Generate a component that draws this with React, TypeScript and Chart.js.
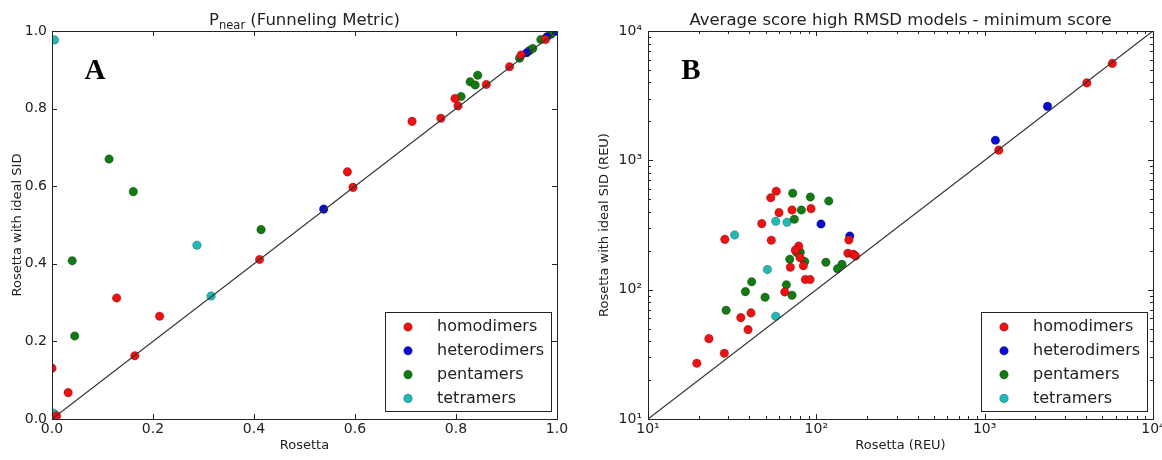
import React, { useEffect, useRef } from "react";
import { Chart, registerables } from "chart.js";

Chart.register(...registerables);

type Pt = [number, number];

// ---------- Panel A : Pnear ----------
const homodimersA: Pt[] = [
  [0.0, 0.131], [0.032, 0.068], [0.009, 0.008], [0.128, 0.312], [0.164, 0.163],
  [0.213, 0.265], [0.411, 0.411], [0.585, 0.637], [0.596, 0.597], [0.713, 0.767],
  [0.770, 0.775], [0.798, 0.826], [0.804, 0.807], [0.860, 0.862], [0.906, 0.908],
  [0.929, 0.938], [0.977, 0.978],
];
const heterodimersA: Pt[] = [[0.538, 0.541], [0.940, 0.944], [0.980, 0.985], [0.998, 1.0]];
const pentamersA: Pt[] = [
  [0.113, 0.670], [0.161, 0.586], [0.040, 0.408], [0.045, 0.214], [0.414, 0.488],
  [0.810, 0.831], [0.828, 0.869], [0.838, 0.861], [0.843, 0.886], [0.926, 0.930],
  [0.946, 0.950], [0.952, 0.955], [0.968, 0.978], [0.988, 0.992], [0.992, 0.996],
];
const tetramersA: Pt[] = [[0.005, 0.977], [0.003, 0.015], [0.287, 0.448], [0.315, 0.317]];
const diagonalA: Pt[] = [[0, 0], [1, 1]];
const ticksA = [0, 0.2, 0.4, 0.6, 0.8, 1.0];

// ---------- Panel B : scores (REU) ----------
const homodimersB: Pt[] = [
  [57.8, 576], [53.6, 514], [60.0, 394], [71.7, 413], [93.0, 423], [47.4, 324],
  [28.6, 245], [54.0, 241], [156, 242], [78.6, 217], [75.0, 202], [80.0, 177],
  [83.7, 153], [70.1, 149], [154, 191], [166, 188], [171, 182], [86.0, 120],
  [91.8, 120], [64.9, 96], [40.9, 66.1], [35.6, 60.8], [39.3, 49.1], [23.0, 41.8],
  [28.4, 32.2], [19.5, 27.0], [1213, 1199], [4045, 3970], [5730, 5615],
];
const heterodimersB: Pt[] = [[106.6, 322], [158, 260], [1158, 1430], [2362, 2612]];
const pentamersB: Pt[] = [
  [72.4, 557], [92.1, 521], [118.5, 485], [81.5, 413], [74.0, 350], [80.3, 195],
  [76.5, 194], [85.3, 165], [69.5, 172], [114, 163], [142, 157], [133.5, 145],
  [41.3, 115], [37.9, 96.6], [66.4, 109], [71.7, 90.6], [49.6, 87.3], [29.1, 69.3],
];
const tetramersB: Pt[] = [[57.4, 338], [67.0, 332], [32.7, 265], [51.2, 143], [57.4, 62.3]];
const diagonalB: Pt[] = [[10, 10], [10000, 10000]];
const ticksB = [10, 100, 1000, 10000];

const seriesNames = ["homodimers", "heterodimers", "pentamers", "tetramers"];
const seriesColors = ["#ee1111", "#0a0ad0", "#117a11", "#22b8b8"];

const FONT = "'DejaVu Sans', sans-serif";
const INK = "#222";

const SUP: Record<string, string> = { "0": "⁰", "1": "¹", "2": "²", "3": "³", "4": "⁴", "-": "⁻" };
const logLabel = (v: number) => "10" + String(Math.round(Math.log10(v))).split("").map((c) => SUP[c]).join("");

const framePlugin = {
  id: "frame",
  afterDatasetsDraw(chart: any, _args: any, opts: any) {
    const { ctx, chartArea: a, scales } = chart;
    const xs = scales.x, ys = scales.y;
    ctx.save();
    ctx.strokeStyle = INK;
    ctx.lineWidth = 1;
    const tick = (vals: number[], len: number) => {
      ctx.beginPath();
      for (const v of vals) {
        const px = Math.round(xs.getPixelForValue(v)) + 0.5;
        ctx.moveTo(px, a.bottom); ctx.lineTo(px, a.bottom - len);
        ctx.moveTo(px, a.top); ctx.lineTo(px, a.top + len);
        const py = Math.round(ys.getPixelForValue(v)) + 0.5;
        ctx.moveTo(a.left, py); ctx.lineTo(a.left + len, py);
        ctx.moveTo(a.right, py); ctx.lineTo(a.right - len, py);
      }
      ctx.stroke();
    };
    tick(opts.majors || [], 5);
    tick(opts.minors || [], 3);
    ctx.strokeRect(Math.round(a.left) + 0.5, Math.round(a.top) + 0.5,
      Math.round(a.right - a.left), Math.round(a.bottom - a.top));
    ctx.restore();
  },
  afterDraw(chart: any, _args: any, opts: any) {
    const { ctx, chartArea: a } = chart;
    ctx.save();
    // title with optional subscript parts
    const parts: { text: string; size: number; dy: number }[] = opts.title || [];
    let total = 0;
    for (const p of parts) { ctx.font = `${p.size}px ${FONT}`; total += ctx.measureText(p.text).width; }
    let x = (a.left + a.right) / 2 - total / 2;
    ctx.fillStyle = INK;
    ctx.textBaseline = "alphabetic";
    ctx.textAlign = "left";
    for (const p of parts) {
      ctx.font = `${p.size}px ${FONT}`;
      ctx.fillText(p.text, x, 24.5 + p.dy);
      x += ctx.measureText(p.text).width;
    }
    // panel letter
    ctx.font = `bold 29px 'Liberation Serif', serif`;
    ctx.fillStyle = "#000";
    ctx.textAlign = "center";
    ctx.fillText(opts.letter, a.left + 43, a.top + 48);
    // legend
    const w = 166, h = 99;
    const lx = a.right - 6 - w, ly = a.bottom - 8 - h;
    ctx.fillStyle = "#fff";
    ctx.fillRect(lx, ly, w, h);
    ctx.strokeStyle = INK;
    ctx.lineWidth = 1;
    ctx.strokeRect(Math.round(lx) + 0.5, Math.round(ly) + 0.5, w, h);
    const items = chart.data.datasets.filter((d: any) => d.label);
    items.forEach((d: any, i: number) => {
      const cy = ly + 15 + i * 23.8;
      ctx.beginPath();
      ctx.arc(lx + 23, cy, 4.3, 0, Math.PI * 2);
      ctx.fillStyle = d.backgroundColor;
      ctx.fill();
      ctx.strokeStyle = "rgba(0,0,0,0.5)";
      ctx.lineWidth = 0.5;
      ctx.stroke();
      ctx.fillStyle = INK;
      ctx.font = `16px ${FONT}`;
      ctx.textAlign = "left";
      ctx.textBaseline = "middle";
      ctx.fillText(d.label, lx + 52, cy);
    });
    ctx.restore();
  },
};

const toXY = (arr: Pt[]) => arr.map(([x, y]) => ({ x, y }));

function makeDatasets(series: Pt[][], diag: Pt[]) {
  return [
    {
      data: toXY(diag),
      showLine: true,
      borderColor: "#333",
      borderWidth: 1.2,
      pointRadius: 0,
      fill: false,
    },
    ...series.map((s, i) => ({
      label: seriesNames[i],
      data: toXY(s),
      backgroundColor: seriesColors[i],
      borderColor: "rgba(0,0,0,0.45)",
      borderWidth: 0.5,
      pointRadius: 4.3,
    })),
  ];
}

function axis(opts: any) {
  return {
    type: opts.type,
    min: opts.min,
    max: opts.max,
    afterBuildTicks: (s: any) => { s.ticks = opts.ticks.map((v: number) => ({ value: v })); },
    ticks: {
      font: { family: FONT, size: 14 },
      color: INK,
      padding: opts.tickPad,
      maxRotation: 0,
      autoSkip: false,
      callback: opts.fmt,
    },
    grid: { display: false, drawTicks: false },
    border: { display: false },
    title: {
      display: true,
      text: opts.title,
      font: { family: FONT, size: 13 },
      color: INK,
      padding: opts.titlePad,
    },
    afterFit: (s: any) => {
      if (opts.horizontal) s.height = opts.size; else s.width = opts.size;
      s.paddingLeft = 0; s.paddingRight = 0; s.paddingTop = 0; s.paddingBottom = 0;
    },
  };
}

function useScatter(ref: React.RefObject<HTMLCanvasElement>, build: () => any) {
  useEffect(() => {
    if (!ref.current) return;
    const chart = new Chart(ref.current, build());
    return () => chart.destroy();
  }, []);
}

export default function App() {
  const refA = useRef<HTMLCanvasElement>(null);
  const refB = useRef<HTMLCanvasElement>(null);

  useScatter(refA, () => ({
    type: "scatter",
    data: { datasets: makeDatasets([homodimersA, heterodimersA, pentamersA, tetramersA], diagonalA) },
    options: {
      animation: false,
      responsive: false,
      devicePixelRatio: 1,
      events: [],
      layout: { padding: { top: 31, right: 23, left: 0, bottom: 0 } },
      plugins: {
        legend: { display: false },
        tooltip: { enabled: false },
        frame: {
          majors: ticksA,
          letter: "A",
          title: [
            { text: "P", size: 16.5, dy: 0 },
            { text: "near", size: 11.5, dy: 4 },
            { text: " (Funneling Metric)", size: 16.5, dy: 0 },
          ],
        },
      },
      scales: {
        x: axis({ type: "linear", min: 0, max: 1, ticks: ticksA, fmt: (v: number) => Number(v).toFixed(1), tickPad: 2, title: "Rosetta", titlePad: { top: 0, bottom: 7 }, horizontal: true, size: 41 }),
        y: axis({ type: "linear", min: 0, max: 1, ticks: ticksA, fmt: (v: number) => Number(v).toFixed(1), tickPad: 5, title: "Rosetta with ideal SID", titlePad: { top: 10, bottom: 0 }, horizontal: false, size: 52 }),
      },
    },
    plugins: [framePlugin],
  }));

  const minorsB: number[] = [];
  for (const d of [10, 100, 1000]) for (let k = 2; k <= 9; k++) minorsB.push(d * k);

  useScatter(refB, () => ({
    type: "scatter",
    data: { datasets: makeDatasets([homodimersB, heterodimersB, pentamersB, tetramersB], diagonalB) },
    options: {
      animation: false,
      responsive: false,
      devicePixelRatio: 1,
      events: [],
      layout: { padding: { top: 31, right: 9, left: 0, bottom: 0 } },
      plugins: {
        legend: { display: false },
        tooltip: { enabled: false },
        frame: {
          majors: ticksB,
          minors: minorsB,
          letter: "B",
          title: [{ text: "Average score high RMSD models - minimum score", size: 16.5, dy: 0 }],
        },
      },
      scales: {
        x: axis({ type: "logarithmic", min: 10, max: 10000, ticks: ticksB, fmt: (v: number) => logLabel(Number(v)), tickPad: 2, title: "Rosetta (REU)", titlePad: { top: 0, bottom: 7 }, horizontal: true, size: 41 }),
        y: axis({ type: "logarithmic", min: 10, max: 10000, ticks: ticksB, fmt: (v: number) => logLabel(Number(v)), tickPad: 6, title: "Rosetta with ideal SID (REU)", titlePad: { top: 17, bottom: 0 }, horizontal: false, size: 68 }),
      },
    },
    plugins: [framePlugin],
  }));

  return (
    <div style={{ position: "fixed", left: 0, top: 0, width: 1162, height: 460, background: "#fff", overflow: "hidden" }}>
      <canvas ref={refA} width={580} height={460} style={{ position: "absolute", left: 0, top: 0 }} />
      <canvas ref={refB} width={582} height={460} style={{ position: "absolute", left: 580, top: 0 }} />
    </div>
  );
}
